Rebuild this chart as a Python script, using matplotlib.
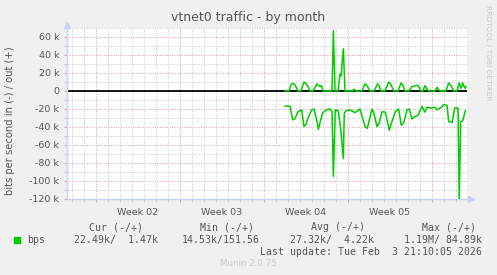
import matplotlib
matplotlib.use("Agg")
import matplotlib.pyplot as plt
import matplotlib.transforms as mtransforms
from matplotlib.ticker import MultipleLocator, FuncFormatter
import numpy as np

# time axis in days since start of Week 02 (Mon 5 Jan 2026)
out_days = [15.75, 16.08, 16.25, 16.42, 16.58, 16.83,
            17.08, 17.33, 17.5, 17.67, 17.83,
            18.08, 18.42, 18.54, 18.67, 18.79, 18.92,
            19.67, 19.78, 19.92,
            20.17, 20.33, 20.42, 20.61, 20.75,
            21.33, 21.5, 21.67,
            22.17, 22.42, 22.58, 22.83,
            23.17, 23.46, 23.58, 23.75,
            24.08, 24.39, 24.58, 24.81,
            25.17, 25.42, 25.58, 25.75,
            26.08, 26.33, 26.54, 26.81, 26.92, 27.08,
            27.25, 27.42, 27.58, 27.73,
            28.25, 28.42, 28.58, 28.75,
            29.17, 29.39, 29.58, 29.81,
            30.08, 30.27, 30.42, 30.56, 30.67, 30.78, 30.83]
out_kbps = [0, 0, 7, 8.5, 7, 0,
            0, 10, 8, 5, 0,
            0, 8, 6, 5, 6, 0,
            0, 67, 0,
            0, 18.5, 17, 47, 0,
            0, 2, 0,
            0, 8, 6, 0,
            0, 8, 6, 0,
            0, 10, 7, 0,
            0, 9, 6, 0,
            0, 5, 5.5, 6.5, 4, 0,
            0, 6, 2, 0,
            0, 4, 1, 0,
            0, 9, 6, 0,
            0, 9, 3, 9, 5, 3, 5]

in_days = [15.75, 16.17, 16.39, 16.58, 16.83, 17.14, 17.33, 17.5, 17.67, 17.97,
           18.17, 18.39, 18.53, 18.67, 18.89, 19.22, 19.5, 19.67, 19.78, 19.94,
           20.19, 20.39, 20.61, 20.69, 20.83, 21.17, 21.58, 22.0, 22.42, 22.61,
           23.0, 23.14, 23.42, 23.61, 23.83, 24.11, 24.44, 24.61, 24.94, 25.22,
           25.44, 25.64, 25.92, 26.11, 26.33, 26.61, 26.83, 27.17, 27.39, 27.58,
           27.94, 28.22, 28.42, 28.78, 28.97, 29.25, 29.39, 29.67, 29.89, 30.17,
           30.27, 30.39, 30.56, 30.78]
in_kbps = [-16.7, -17, -32, -31, -23, -21, -39.6, -37, -30, -21,
           -20, -32, -42.6, -35, -24, -21, -20, -23, -95, -21,
           -22, -42, -75, -25, -22, -21, -24, -20, -39.6, -41.5,
           -20, -24, -39.6, -35, -23, -23.5, -43.5, -36, -23, -20,
           -38, -35, -21, -20, -31, -28, -27, -17, -23.5, -18,
           -19, -18, -21, -18, -15, -16, -34, -35, -19, -19,
           -122, -34, -33, -22]

week_starts = [0, 7, 14, 21, 28]
week_labels = ["Week 02", "Week 03", "Week 04", "Week 05"]

legend_heads = ["Cur (-/+)", "Min (-/+)", "Avg (-/+)", "Max (-/+)"]
legend_vals = ["22.49k/  1.47k", "14.53k/151.56", "27.32k/  4.22k", "1.19M/ 84.89k"]
last_update = "Last update: Tue Feb  3 21:10:05 2026"

W, H = 497, 275
txt = "#555555"
green = "#00cc00"
axis_blue = "#c8d0f4"
grid_grey = "#c8c8c8"
grid_red = "#dca0a0"

fig = plt.figure(figsize=(W / 100, H / 100), dpi=100, facecolor="#f0f0f0")
ax = fig.add_axes([67 / W, 1 - 199 / H, 400 / W, 171 / H])
ax.set_facecolor("white")

ax.set_xlim(-2.417, 30.917)
ax.set_ylim(-120, 70)

ax.set_xticks(week_starts)
ax.xaxis.set_minor_locator(MultipleLocator(1))
ax.yaxis.set_major_locator(MultipleLocator(20))
ax.yaxis.set_minor_locator(MultipleLocator(10))
ax.yaxis.set_major_formatter(FuncFormatter(lambda v, p: "0" if v == 0 else "%d k" % v))
ax.set_xticklabels([])

ax.grid(which="minor", color=grid_grey, linestyle=(0, (1, 1.5)), linewidth=0.7)
ax.grid(which="major", color=grid_red, linestyle=(0, (1, 1.5)), linewidth=0.7)
ax.set_axisbelow(True)

ax.tick_params(which="major", direction="out", length=2, width=0.7, color=grid_red,
               labelsize=6.8, labelcolor=txt, pad=3.5)
ax.tick_params(which="minor", direction="out", length=2, width=0.7, color=grid_grey)

for s in ["top", "right"]:
    ax.spines[s].set_visible(False)
for s in ["left", "bottom"]:
    ax.spines[s].set_color(axis_blue)
    ax.spines[s].set_linewidth(1.0)

ax.axhline(0, color="black", linewidth=1.3, zorder=2)
ax.plot(out_days, out_kbps, color=green, linewidth=1.1, zorder=3)
ax.plot(in_days, in_kbps, color=green, linewidth=1.1, zorder=3)

# axis arrows
x0, x1 = ax.get_xlim()
y0, y1 = ax.get_ylim()
ax.plot([x0], [y1 + 3], marker="^", markersize=4.5, color=axis_blue, clip_on=False, zorder=4)
ax.plot([x1 + 0.35], [y0], marker=">", markersize=4.5, color=axis_blue, clip_on=False, zorder=4)

trans = mtransforms.blended_transform_factory(ax.transData, ax.transAxes)
for i, lab in enumerate(week_labels):
    ax.text(week_starts[i] + 3.5, -0.08, lab, transform=trans, ha="center", va="center",
            fontsize=6.8, color=txt)

ax.set_ylabel("bits per second in (-) / out (+)", fontsize=7.2, color=txt)
ax.yaxis.set_label_coords(-0.13, 0.456)

fig.text(248.5 / W, 1 - 17 / H, "vtnet0 traffic - by month", ha="center", va="center",
         fontsize=9, color=txt)
fig.text(488 / W, 1 - 53 / H, "RRDTOOL / TOBI OETIKER", rotation=270, ha="center",
         va="center", fontsize=5.4, color="#c8c8c8")

mono = "DejaVu Sans Mono"
head_right = [143, 253.6, 365, 476]
val_right = [158, 260, 374, 482]
for h, v, hx, vx in zip(legend_heads, legend_vals, head_right, val_right):
    fig.text(hx / W, 1 - 227 / H, h, ha="right", va="center", family=mono, fontsize=7.1, color=txt)
    fig.text(vx / W, 1 - 240 / H, v, ha="right", va="center", family=mono, fontsize=7.1, color=txt)
fig.patches.append(plt.Rectangle((14 / W, 1 - 243 / H), 6 / W, 6 / H, transform=fig.transFigure,
                                 color=green, figure=fig))
fig.text(27 / W, 1 - 240 / H, "bps", ha="left", va="center", family=mono, fontsize=7.1, color=txt)
fig.text(482 / W, 1 - 252 / H, last_update, ha="right", va="center", family=mono, fontsize=7.1,
         color=txt)
fig.text(248 / W, 1 - 264 / H, "Munin 2.0.75", ha="center", va="center", fontsize=6.3,
         color="#c8c8c8")

fig.savefig("out.png", dpi=100, facecolor=fig.get_facecolor())
